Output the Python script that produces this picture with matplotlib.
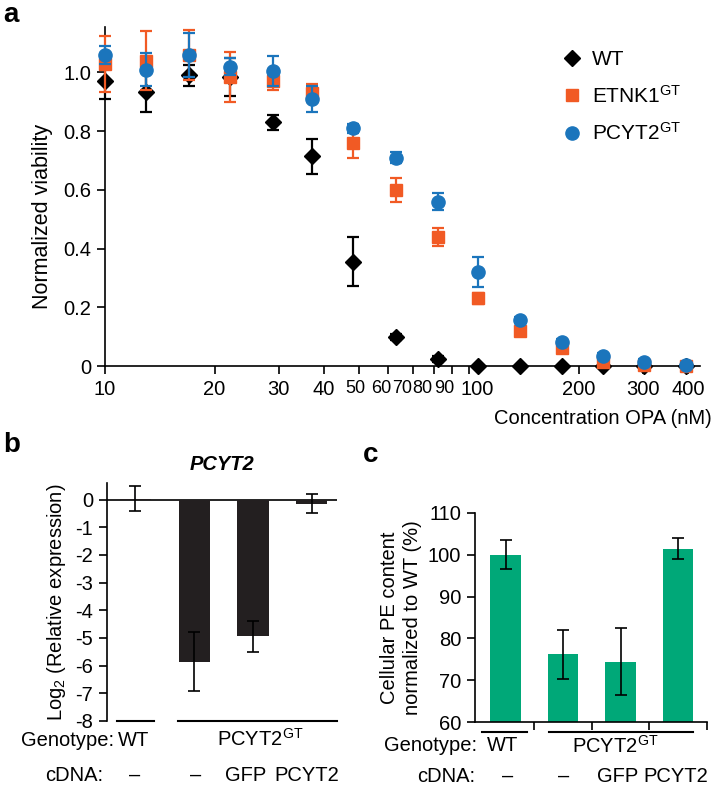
import matplotlib
matplotlib.use('Agg')
import matplotlib.pyplot as plt
import matplotlib.transforms as mtransforms
from matplotlib.lines import Line2D
from matplotlib.ticker import FixedLocator, FixedFormatter, NullLocator

plt.rcParams['font.family'] = ['Liberation Sans', 'DejaVu Sans']
plt.rcParams['mathtext.fontset'] = 'custom'
plt.rcParams['mathtext.rm'] = 'Liberation Sans'
plt.rcParams['mathtext.it'] = 'Liberation Sans:italic'
plt.rcParams['mathtext.bf'] = 'Liberation Sans:bold'
plt.rcParams['axes.unicode_minus'] = False
plt.rcParams['font.size'] = 14.5

# panel a: viability vs OPA concentration (nM)
conc = [10, 13, 17, 22, 29, 37, 48, 63, 82, 106, 138, 180, 233, 303, 394]
wt = [0.97, 0.935, 0.99, 0.985, 0.83, 0.715, 0.355, 0.10, 0.023, 0.0, 0.0, 0.0, 0.0, 0.0, 0.0]
wt_err = [0.06, 0.07, 0.035, 0.065, 0.025, 0.06, 0.083, 0.01, 0.01, 0, 0, 0, 0, 0, 0]
etnk1 = [1.03, 1.04, 1.06, 0.985, 0.97, 0.93, 0.76, 0.60, 0.44, 0.23, 0.12, 0.06, 0.015, 0.005, 0.0]
etnk1_err = [0.095, 0.1, 0.085, 0.085, 0.03, 0.03, 0.05, 0.04, 0.03, 0.02, 0.01, 0.01, 0.01, 0.01, 0]
pcyt2 = [1.06, 1.01, 1.06, 1.02, 1.005, 0.91, 0.81, 0.71, 0.56, 0.32, 0.157, 0.082, 0.035, 0.015, 0.003]
pcyt2_err = [0.03, 0.055, 0.075, 0.03, 0.05, 0.045, 0.015, 0.02, 0.03, 0.05, 0.01, 0.01, 0.01, 0.01, 0]
xticks_a = [10, 20, 30, 40, 50, 60, 70, 80, 90, 100, 200, 300, 400]

# panel b: log2 relative PCYT2 expression
b_vals = [0.03, -5.85, -4.94, -0.15]
b_err = [0.45, 1.08, 0.56, 0.35]

# panel c: cellular PE content (% of WT)
c_vals = [100, 76.2, 74.4, 101.5]
c_err = [3.5, 5.8, 8.0, 2.5]

cdna = ['–', '–', 'GFP', 'PCYT2']

W, H = 714, 786
fig = plt.figure(figsize=(W / 100, H / 100), dpi=100)


def box(l, t, r, b):
    return [l / W, 1 - b / H, (r - l) / W, (b - t) / H]


def fpos(x, y):
    return x / W, 1 - y / H


orange = '#F15A24'
blue = '#1B75BC'
green = '#00A878'
dark = '#231F20'

# ---------- a ----------
ax = fig.add_axes(box(105, 27, 700, 366))
ax.set_xscale('log')
ax.errorbar(conc, wt, yerr=wt_err, fmt='D', color='black', ms=8.5, capsize=4,
            elinewidth=1.6, capthick=1.6, clip_on=False, zorder=3)
ax.errorbar(conc, etnk1, yerr=etnk1_err, fmt='s', color=orange, ms=8.5, capsize=4,
            elinewidth=1.6, capthick=1.6, clip_on=False, zorder=4)
ax.errorbar(conc, pcyt2, yerr=pcyt2_err, fmt='o', color=blue, ms=9.5, capsize=4,
            elinewidth=1.6, capthick=1.6, clip_on=False, zorder=5)
ax.set_xlim(10, 431)
ax.set_ylim(0, 1.155)
ax.xaxis.set_major_locator(FixedLocator(xticks_a))
ax.xaxis.set_major_formatter(FixedFormatter([str(t) for t in xticks_a]))
ax.xaxis.set_minor_locator(NullLocator())
ax.set_yticks([0, 0.2, 0.4, 0.6, 0.8, 1.0])
ax.set_yticklabels(['0', '0.2', '0.4', '0.6', '0.8', '1.0'])
ax.tick_params(direction='out', length=6, width=1.2, labelsize=14.5, pad=4)
# crowded labels 50-100 are squeezed and nudged like in the original
shift = {50: -4, 60: -7, 70: -11, 80: -11, 90: -8, 100: 8}
for t, lab in zip(xticks_a, ax.get_xticklabels()):
    if t in shift:
        if t != 100:
            lab.set_fontsize(13)
        off = mtransforms.ScaledTranslation(shift[t] / 100, 0, fig.dpi_scale_trans)
        lab.set_transform(lab.get_transform() + off)
for s in ['top', 'right']:
    ax.spines[s].set_visible(False)
for s in ['left', 'bottom']:
    ax.spines[s].set_linewidth(1.2)
ax.set_ylabel('Normalized viability', fontsize=15.5)
ax.yaxis.set_label_coords(-0.087, 0.44)
handles = [Line2D([], [], ls='none', marker='D', color='black', ms=8.5),
           Line2D([], [], ls='none', marker='s', color=orange, ms=8.5),
           Line2D([], [], ls='none', marker='o', color=blue, ms=9.5)]
fig.legend(handles, ['WT', 'ETNK1$^{\\mathrm{GT}}$', 'PCYT2$^{\\mathrm{GT}}$'],
           loc='upper left', bbox_to_anchor=fpos(562, 50), frameon=False,
           fontsize=15, handletextpad=0.45, labelspacing=0.75, handlelength=1.0,
           borderaxespad=0, borderpad=0)
fig.text(*fpos(712, 418), 'Concentration OPA (nM)', ha='right', va='center', fontsize=14.5)
fig.text(*fpos(3, 15), 'a', fontsize=20, fontweight='bold', va='center', ha='left')

# ---------- b ----------
bx = fig.add_axes(box(107, 483, 337, 721))
xb = [1, 2, 3, 4]
bx.bar(xb, b_vals, width=0.53, color=dark, zorder=2)
bx.errorbar(xb, b_vals, yerr=b_err, fmt='none', ecolor='black', elinewidth=1.2,
            capsize=4, capthick=1.2, zorder=3)
bx.axhline(0, color='black', lw=1.2, zorder=1)
bx.set_xlim(0.517, 4.43)
bx.set_ylim(-8, 0.6)
bx.set_yticks(range(-8, 1))
bx.set_yticklabels([str(v) for v in range(-8, 1)])
bx.set_xticks([])
for s in ['top', 'right', 'bottom']:
    bx.spines[s].set_visible(False)
bx.spines['left'].set_linewidth(1.2)
bx.tick_params(axis='y', direction='out', length=6, width=1.2, labelsize=14.5, pad=4)
bx.set_ylabel('Log$_2$ (Relative expression)', fontsize=14.5, labelpad=5)
bx.set_title('PCYT2', fontsize=14.5, fontweight='bold', fontstyle='italic', pad=9)
bx.plot([0.69, 1.31], [-8, -8], color='black', lw=1.5, clip_on=False)
bx.plot([1.72, 4.43], [-8, -8], color='black', lw=1.5, clip_on=False)
fig.text(*fpos(114, 746), 'Genotype:', ha='right', va='baseline', fontsize=14.5)
fig.text(*fpos(134, 746), 'WT', ha='center', va='baseline', fontsize=14.5)
fig.text(*fpos(260, 746), 'PCYT2$^{\\mathrm{GT}}$', ha='center', va='baseline', fontsize=14.5)
fig.text(*fpos(103, 781), 'cDNA:', ha='right', va='baseline', fontsize=14.5)
for xp, lab in zip([135, 196, 246, 307], cdna):
    fig.text(*fpos(xp, 781), lab, ha='center', va='baseline', fontsize=14.5)
fig.text(*fpos(3, 445), 'b', fontsize=20, fontweight='bold', va='center', ha='left')

# ---------- c ----------
cx = fig.add_axes(box(475, 513, 707, 722))
xc = [1, 2, 3, 4]
cx.bar(xc, c_vals, width=0.53, color=green, zorder=2)
cx.errorbar(xc, c_vals, yerr=c_err, fmt='none', ecolor='black', elinewidth=1.2,
            capsize=4, capthick=1.2, zorder=3)
cx.set_xlim(0.47, 4.5)
cx.set_ylim(60, 110)
cx.set_yticks([60, 70, 80, 90, 100, 110])
cx.set_xticks([1.5, 2.5, 3.5, 4.5])
cx.set_xticklabels([])
for s in ['top', 'right']:
    cx.spines[s].set_visible(False)
for s in ['left', 'bottom']:
    cx.spines[s].set_linewidth(1.2)
cx.tick_params(direction='out', length=6, width=1.2, labelsize=14.5, pad=4)
cx.set_ylabel('Cellular PE content\nnormalized to WT (%)', fontsize=14.5, labelpad=4,
              linespacing=1.25)
cx.plot([0.6, 1.38], [57.7, 57.7], color='black', lw=1.5, clip_on=False)
cx.plot([1.75, 4.26], [57.7, 57.7], color='black', lw=1.5, clip_on=False)
fig.text(*fpos(477, 751), 'Genotype:', ha='right', va='baseline', fontsize=14.5)
fig.text(*fpos(503, 751), 'WT', ha='center', va='baseline', fontsize=14.5)
fig.text(*fpos(615, 753), 'PCYT2$^{\\mathrm{GT}}$', ha='center', va='baseline', fontsize=14.5)
fig.text(*fpos(475, 782), 'cDNA:', ha='right', va='baseline', fontsize=14.5)
for xp, lab in zip([508, 564, 618, 676], cdna):
    fig.text(*fpos(xp, 782), lab, ha='center', va='baseline', fontsize=14.5)
fig.text(*fpos(363, 455), 'c', fontsize=20, fontweight='bold', va='center', ha='left')

fig.savefig('out.png', dpi=100)
